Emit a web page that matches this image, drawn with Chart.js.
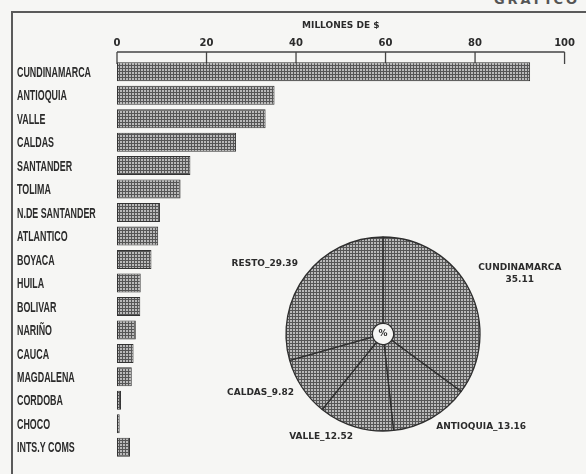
<!DOCTYPE html>
<html>
<head>
<meta charset="utf-8">
<script src="https://cdn.jsdelivr.net/npm/chart.js@4.4.1/dist/chart.umd.min.js"></script>
<style>
    html, body { margin: 0; padding: 0; background: #f6f6f4; }
    #wrap { position: relative; width: 586px; height: 474px; overflow: hidden; }
    #frame { position: absolute; left: 11px; top: 11px; right: -5px; bottom: -5px;
             border-top: 2px solid #5a5a5a; border-left: 2px solid #5a5a5a; }
    #sheet { position: absolute; right: 6px; top: -8px; color: #555;
             font: bold 13px "DejaVu Sans", sans-serif; letter-spacing: 3px; }
    #bars { position: absolute; left: 0; top: 0; }
    #pie { position: absolute; left: 203px; top: 224px; }
</style>
</head>
<body>
<div id="wrap">
    <div id="frame"></div>
    <div id="sheet">GRAFICO</div>
    <canvas id="bars" width="586" height="474"></canvas>
    <canvas id="pie" width="360" height="220"></canvas>
</div>
<script>
// Datos
const departamentos = ['CUNDINAMARCA', 'ANTIOQUIA', 'VALLE', 'CALDAS', 'SANTANDER', 'TOLIMA',
    'N.DE SANTANDER', 'ATLANTICO', 'BOYACA', 'HUILA', 'BOLIVAR', 'NARIÑO', 'CAUCA',
    'MAGDALENA', 'CORDOBA', 'CHOCO', 'INTS.Y COMS'];
const millones = [92.3, 35.2, 33.2, 26.6, 16.4, 14.2, 9.6, 9.2, 7.7, 5.3, 5.2, 4.2, 3.7, 3.3, 0.9, 0.6, 2.9];
const escala = [0, 20, 40, 60, 80, 100];
const tituloEje = 'MILLONES DE $';

const sectores = ['CUNDINAMARCA', 'ANTIOQUIA', 'VALLE', 'CALDAS', 'RESTO'];
const porcentajes = [35.11, 13.16, 12.52, 9.82, 29.39];

const TINTA = '#2b2b2b';
const FUENTE_CHICA = { family: '"DejaVu Sans", sans-serif', size: 9, weight: 'bold' };

// trama de imprenta: cuadritos claros sobre reticula oscura
function trama(ctx) {
    const c = document.createElement('canvas');
    c.width = 3; c.height = 3;
    const g = c.getContext('2d');
    g.fillStyle = '#565656';
    g.fillRect(0, 0, 3, 3);
    g.fillStyle = '#bababa';
    g.fillRect(0, 0, 2, 2);
    return ctx.createPattern(c, 'repeat');
}

// regla superior con marcas hacia abajo
const regla = {
    id: 'regla',
    beforeDatasetsDraw(chart) {
        const { ctx, chartArea, scales: { x } } = chart;
        const yLinea = chartArea.top - 8;
        ctx.save();
        ctx.strokeStyle = '#444';
        ctx.lineWidth = 1.3;
        ctx.beginPath();
        ctx.moveTo(x.getPixelForValue(escala[0]), yLinea);
        ctx.lineTo(x.getPixelForValue(escala[escala.length - 1]), yLinea);
        escala.forEach(v => {
            const px = x.getPixelForValue(v);
            ctx.moveTo(px, yLinea);
            ctx.lineTo(px, chartArea.top + 4);
        });
        ctx.stroke();
        ctx.restore();
    }
};

// nombres de departamentos en letra condensada
const nombres = {
    id: 'nombres',
    afterDraw(chart) {
        const { ctx, scales: { y } } = chart;
        ctx.save();
        ctx.font = 'bold 15px "Liberation Sans Narrow", "Liberation Sans", sans-serif';
        ctx.fillStyle = TINTA;
        ctx.textBaseline = 'middle';
        ctx.textAlign = 'left';
        const k = 74 / ctx.measureText(departamentos[0]).width;
        departamentos.forEach((d, i) => {
            ctx.save();
            ctx.translate(y.left, y.getPixelForTick(i) + 1);
            ctx.scale(k, 1);
            ctx.fillText(d, 0, 0);
            ctx.restore();
        });
        ctx.restore();
    }
};

const barCtx = document.getElementById('bars').getContext('2d');
new Chart(barCtx, {
    type: 'bar',
    data: {
        labels: departamentos,
        datasets: [{
            data: millones,
            backgroundColor: trama(barCtx),
            borderColor: '#333',
            borderWidth: 1,
            borderSkipped: false,
            barPercentage: 0.81,
            categoryPercentage: 1
        }]
    },
    options: {
        indexAxis: 'y',
        responsive: false,
        animation: false,
        devicePixelRatio: 1,
        layout: { padding: { left: 17, right: 18, top: 0, bottom: 15 } },
        plugins: { legend: { display: false }, tooltip: { enabled: false } },
        scales: {
            x: {
                position: 'top',
                min: 0,
                max: 100,
                afterFit: s => { s.height = 60; },
                ticks: { stepSize: 20, padding: 11, color: TINTA, font: { ...FUENTE_CHICA, size: 10 } },
                grid: { display: false, drawTicks: false },
                border: { display: false },
                title: { display: true, text: tituloEje, color: TINTA, font: FUENTE_CHICA, padding: { top: 20, bottom: 0 } }
            },
            y: {
                afterFit: s => { s.width = 100; },
                ticks: { display: false },
                grid: { display: false, drawTicks: false },
                border: { display: false }
            }
        }
    },
    plugins: [regla, nombres]
});

// rotulos del circulo
const rotulos = {
    id: 'rotulos',
    afterDraw(chart) {
        const { ctx } = chart;
        const arcos = chart.getDatasetMeta(0).data;
        ctx.save();
        ctx.font = 'bold 9px "DejaVu Sans", sans-serif';
        ctx.fillStyle = TINTA;
        ctx.textBaseline = 'middle';
        ctx.textAlign = 'center';
        arcos.forEach((a, i) => {
            const mid = (a.startAngle + a.endAngle) / 2;
            const ux = Math.cos(mid), uy = Math.sin(mid);
            const ax = a.x + ux * a.outerRadius * 1.1;
            const ay = a.y + uy * a.outerRadius * 1.1;
            const val = porcentajes[i].toFixed(2);
            const lineas = sectores[i].length > 10 ? [sectores[i], val] : [sectores[i] + '_' + val];
            const ancho = Math.max(...lineas.map(l => ctx.measureText(l).width));
            const cx = ux >= 0 ? ax + ancho / 2 : ax - ancho / 2;
            const alto = 12;
            let y0 = uy < 0 ? ay - alto * lineas.length + alto / 2 : ay - alto * (lineas.length - 1) / 2;
            lineas.forEach((l, j) => ctx.fillText(l, cx, y0 + j * alto));
        });
        const c = arcos[0];
        ctx.fillText('%', c.x, c.y);
        ctx.restore();
    }
};

const pieCtx = document.getElementById('pie').getContext('2d');
new Chart(pieCtx, {
    type: 'doughnut',
    data: {
        labels: sectores,
        datasets: [{
            data: porcentajes,
            backgroundColor: trama(pieCtx),
            borderColor: '#2e2e2e',
            borderWidth: 1.3
        }]
    },
    options: {
        responsive: false,
        animation: false,
        devicePixelRatio: 1,
        cutout: 12,
        radius: 97,
        plugins: { legend: { display: false }, tooltip: { enabled: false } }
    },
    plugins: [rotulos]
});
</script>
</body>
</html>
